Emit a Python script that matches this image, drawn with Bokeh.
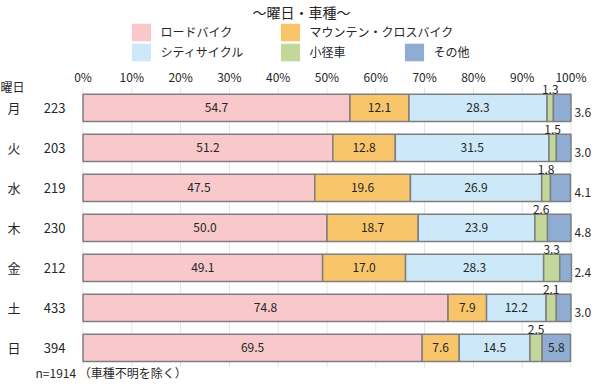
from bokeh.plotting import figure
from bokeh.models import (ColumnDataSource, Range1d, LabelSet, Label, Legend, LegendItem)
from bokeh.embed import file_html
from bokeh.resources import INLINE
from bokeh.core.properties import value

# ---------------- data ----------------
days = ["月", "火", "水", "木", "金", "土", "日"]
counts = [223, 203, 219, 230, 212, 433, 394]
road = [54.7, 51.2, 47.5, 50.0, 49.1, 74.8, 69.5]
mountain = [12.1, 12.8, 19.6, 18.7, 17.0, 7.9, 7.6]
city = [28.3, 31.5, 26.9, 23.9, 28.3, 12.2, 14.5]
small = [1.3, 1.5, 1.8, 2.6, 3.3, 2.1, 2.5]
other = [3.6, 3.0, 4.1, 4.8, 2.4, 3.0, 5.8]
series_names = ["ロードバイク", "マウンテン・クロスバイク", "シティサイクル", "小径車", "その他"]
tick_values = [0, 10, 20, 30, 40, 50, 60, 70, 80, 90, 100]
title_text = "～曜日・車種～"
note_text = "n=1914 （車種不明を除く）"
day_header = "曜日"

colors = ["#F8C8CB", "#F8C56B", "#CDE8F8", "#C4D79B", "#8FACD2"]
FONT = "Noto Sans CJK JP"
TXT = "#262626"

series = [road, mountain, city, small, other]
ys = list(range(len(days)))

# cumulative bounds
lefts, rights = [], []
acc = [0.0] * len(days)
for s in series:
    l = acc[:]
    r = [a + v for a, v in zip(acc, s)]
    lefts.append(l)
    rights.append(r)
    acc = r

p = figure(width=600, height=386, output_backend="svg", toolbar_location=None,
           x_range=Range1d(-16.91, 106.05), y_range=Range1d(6.9675, -2.6825),
           x_axis_location=None, y_axis_location=None,
           min_border_left=0, min_border_right=0, min_border_top=0,
           min_border_bottom=0)
p.outline_line_color = None
p.background_fill_color = "white"
p.xgrid.grid_line_color = None
p.ygrid.grid_line_color = None

# vertical grid lines at tick values (only across the bar area)
GRID_TOP, GRID_BOTTOM = -0.5075, 6.4925
p.segment(x0=tick_values, x1=tick_values, y0=[GRID_TOP] * len(tick_values),
          y1=[GRID_BOTTOM] * len(tick_values), line_color="#E4E4E4", line_width=1)

# tick labels (top)
p.add_layout(LabelSet(x="x", y="y", text="t",
                      source=ColumnDataSource(dict(x=tick_values,
                                                   y=[-0.7825] * len(tick_values),
                                                   t=["%d%%" % v for v in tick_values])),
                      text_align="center", text_baseline="middle", text_font=value(FONT),
                      text_font_size="12px", text_color=TXT))

BAR_H = 0.68
legend_renderers = []
for k, s in enumerate(series):
    src = ColumnDataSource(dict(y=ys, left=lefts[k], right=rights[k], v=s))
    # borderless copy underneath: used as the legend swatch
    proxy = p.hbar(y="y", left="left", right="right", height=BAR_H, source=src,
                   fill_color=colors[k], line_color=None)
    legend_renderers.append(proxy)
    p.hbar(y="y", left="left", right="right", height=BAR_H, source=src,
           fill_color=colors[k], line_color="#7E7E7E", line_width=1.5)

# labels inside bars for road, mountain, city
for k in range(3):
    src = ColumnDataSource(dict(
        x=[(a + b) / 2 for a, b in zip(lefts[k], rights[k])],
        y=ys, t=["%.1f" % v for v in series[k]]))
    p.add_layout(LabelSet(x="x", y="y", text="t", source=src, text_align="center",
                          text_baseline="middle", text_font=value(FONT),
                          text_font_size="12px", text_color=TXT))

# small-wheel labels above bars
src_s = ColumnDataSource(dict(
    x=[(a + b) / 2 for a, b in zip(lefts[3], rights[3])],
    y=[i - BAR_H / 2 for i in ys], t=["%.1f" % v for v in small]))
p.add_layout(LabelSet(x="x", y="y", text="t", source=src_s, text_align="center",
                      text_baseline="bottom", text_font=value(FONT),
                      text_font_size="12px", text_color=TXT))

# other labels: inside if wide enough, else to the right
ox_in, oy_in, ot_in, ox_out, oy_out, ot_out = [], [], [], [], [], []
for i, v in enumerate(other):
    if v >= 5:
        ox_in.append((lefts[4][i] + rights[4][i]) / 2); oy_in.append(i); ot_in.append("%.1f" % v)
    else:
        ox_out.append(100.7); oy_out.append(i + 0.11); ot_out.append("%.1f" % v)
p.add_layout(LabelSet(x="x", y="y", text="t",
                      source=ColumnDataSource(dict(x=ox_in, y=oy_in, t=ot_in)),
                      text_align="center", text_baseline="middle", text_font=value(FONT),
                      text_font_size="12px", text_color=TXT))
p.add_layout(LabelSet(x="x", y="y", text="t",
                      source=ColumnDataSource(dict(x=ox_out, y=oy_out, t=ot_out)),
                      text_align="left", text_baseline="middle", text_font=value(FONT),
                      text_font_size="12px", text_color=TXT))

# day names and counts
p.add_layout(LabelSet(x="x", y="y", text="t",
                      source=ColumnDataSource(dict(x=[-14.14] * len(days), y=ys, t=days)),
                      text_align="center", text_baseline="middle", text_font=value(FONT),
                      text_font_size="13px", text_color=TXT))
p.add_layout(LabelSet(x="x", y="y", text="t",
                      source=ColumnDataSource(dict(x=[-3.59] * len(days), y=ys,
                                                   t=[str(c) for c in counts])),
                      text_align="right", text_baseline="middle", text_font=value(FONT),
                      text_font_size="13px", text_color=TXT))

p.add_layout(Label(x=-14.45, y=-0.53, text=day_header, text_align="center",
                   text_baseline="middle", text_font=FONT, text_font_size="12px",
                   text_color=TXT))
p.add_layout(Label(x=44.8, y=-2.39, text=title_text, text_align="center",
                   text_baseline="middle", text_font=FONT, text_font_size="14px",
                   text_color=TXT))
p.add_layout(Label(x=-9.73, y=6.61, text=note_text, text_align="left",
                   text_baseline="middle", text_font=FONT, text_font_size="12px",
                   text_color=TXT))

# legends (one per item to match the irregular grid)
positions = [(128.6, 343.5), (277.6, 343.5), (128.6, 323.2), (277.6, 323.2), (401.6, 323.2)]
for k in range(5):
    lg = Legend(items=[LegendItem(label=series_names[k], renderers=[legend_renderers[k]])],
                location=positions[k], orientation="vertical",
                glyph_width=24, glyph_height=22, label_height=22, label_standoff=8,
                padding=0, margin=0, spacing=0, border_line_color=None,
                background_fill_alpha=0, label_text_font=FONT,
                label_text_font_size="12px", label_text_color=TXT)
    p.add_layout(lg, "center")

open("out.html", "w").write(file_html(p, INLINE))
